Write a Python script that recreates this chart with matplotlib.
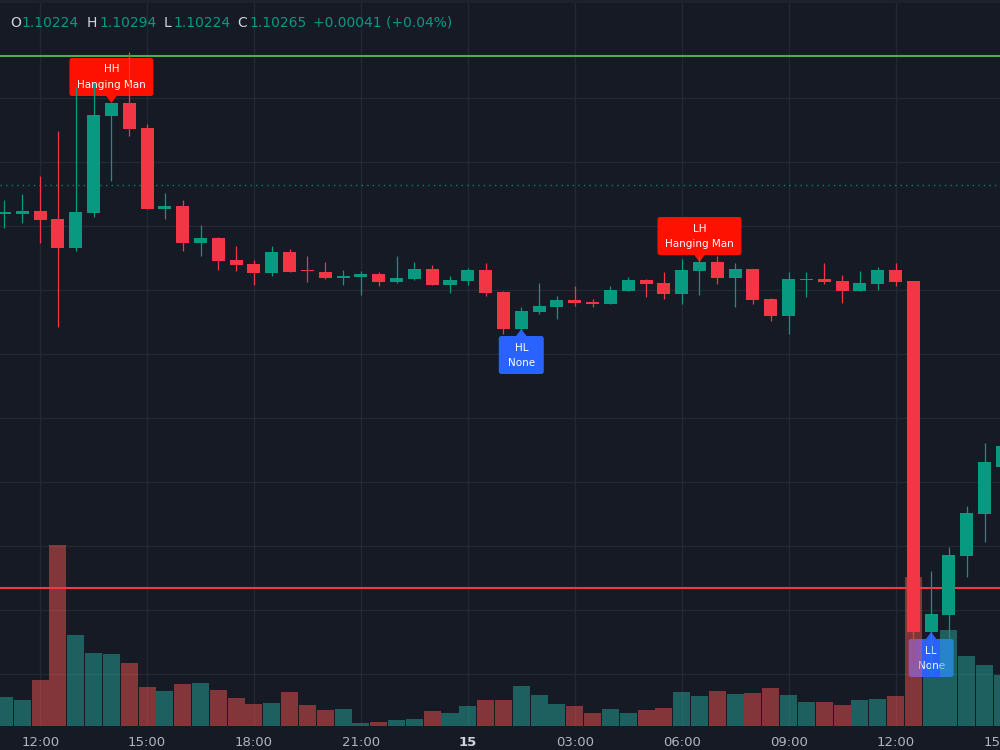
import matplotlib
matplotlib.use('Agg')
import matplotlib.pyplot as plt
import matplotlib.transforms as mtransforms
from matplotlib.patches import FancyBboxPatch, Polygon, Rectangle
import numpy as np

# EURUSD 30m, first bar = 11:00 on the 14th
opens = [1.10729, 1.10729, 1.10735, 1.10719, 1.10661, 1.10731, 1.10925, 1.10951, 1.10901, 1.10739,
         1.10745, 1.10671, 1.10681, 1.10637, 1.10629, 1.10611, 1.10653, 1.10617, 1.10613, 1.10601,
         1.10603, 1.10609, 1.10593, 1.10599, 1.10619, 1.10587, 1.10595, 1.10617, 1.10573, 1.10499,
         1.10533, 1.10543, 1.10557, 1.10553, 1.10549, 1.10575, 1.10597, 1.10591, 1.10569, 1.10615,
         1.10633, 1.10601, 1.10619, 1.10559, 1.10525, 1.10597, 1.10599, 1.10595, 1.10575, 1.10589,
         1.10617, 1.10595, 1.09893, 1.09927, 1.10045, 1.10129, 1.10224]
highs = [1.10757, 1.10769, 1.10805, 1.10895, 1.10983, 1.10991, 1.10951, 1.11053, 1.10909, 1.10771,
         1.10757, 1.10707, 1.10683, 1.10665, 1.10637, 1.10665, 1.10659, 1.10645, 1.10633, 1.10617,
         1.10615, 1.10613, 1.10645, 1.10633, 1.10627, 1.10605, 1.10621, 1.10631, 1.10575, 1.10543,
         1.10591, 1.10565, 1.10585, 1.10559, 1.10585, 1.10603, 1.10599, 1.10613, 1.10639, 1.10645,
         1.10645, 1.10631, 1.10619, 1.10561, 1.10613, 1.10613, 1.10631, 1.10607, 1.10615, 1.10623,
         1.10631, 1.10595, 1.10015, 1.10063, 1.10145, 1.10271, 1.10294]
lows = [1.10701, 1.10711, 1.10671, 1.10503, 1.10655, 1.10723, 1.10795, 1.10885, 1.10739, 1.10719,
        1.10655, 1.10645, 1.10617, 1.10615, 1.10587, 1.10605, 1.10613, 1.10593, 1.10599, 1.10587,
        1.10567, 1.10585, 1.10591, 1.10597, 1.10587, 1.10571, 1.10587, 1.10565, 1.10489, 1.10497,
        1.10529, 1.10519, 1.10545, 1.10543, 1.10549, 1.10575, 1.10563, 1.10559, 1.10549, 1.10567,
        1.10589, 1.10543, 1.10549, 1.10515, 1.10489, 1.10563, 1.10589, 1.10551, 1.10575, 1.10577,
        1.10585, 1.09833, 1.09805, 1.09881, 1.10003, 1.10073, 1.10224]
closes = [1.10733, 1.10735, 1.10717, 1.10661, 1.10733, 1.10927, 1.10951, 1.10899, 1.10739, 1.10745,
          1.10671, 1.10681, 1.10635, 1.10627, 1.10611, 1.10653, 1.10613, 1.10615, 1.10601, 1.10605,
          1.10609, 1.10593, 1.10601, 1.10619, 1.10587, 1.10597, 1.10617, 1.10571, 1.10499, 1.10535,
          1.10545, 1.10557, 1.10551, 1.10549, 1.10577, 1.10597, 1.10589, 1.10569, 1.10617, 1.10633,
          1.10601, 1.10619, 1.10557, 1.10525, 1.10599, 1.10599, 1.10593, 1.10575, 1.10591, 1.10617,
          1.10593, 1.09893, 1.09929, 1.10047, 1.10131, 1.10233, 1.10265]
volumes = [2900, 2600, 4600, 18100, 9100, 7300, 7200, 6300, 3900, 3500,
           4200, 4300, 3600, 2800, 2200, 2300, 3400, 2100, 1600, 1700,
           300, 400, 600, 700, 1500, 1300, 2000, 2600, 2600, 4000,
           3100, 2200, 2000, 1300, 1700, 1300, 1600, 1800, 3400, 3000,
           3500, 3200, 3300, 3800, 3100, 2400, 2400, 2100, 2600, 2700,
           3000, 14900, 4900, 9600, 7000, 6100, 5100]

tick_idx = [2, 8, 14, 20, 26, 32, 38, 44, 50, 56]
tick_text = ['12:00', '15:00', '18:00', '21:00', '15', '03:00', '06:00', '09:00', '12:00', '15:00']

# pivot labels
label_idx = [6, 29, 39, 52]
label_top = ['HH', 'HL', 'LH', 'LL']
label_bottom = ['Hanging Man', 'None', 'Hanging Man', 'None']

upper_line = 1.11045
lower_line = 1.09981
dotted_line = 1.10787

BG = '#161a25'
UP = '#089981'
DOWN = '#f23645'
VOL_UP = '#26a69a'
VOL_DOWN = '#ef5350'

opens = np.array(opens)
highs = np.array(highs)
lows = np.array(lows)
closes = np.array(closes)
volumes = np.array(volumes)
x = np.arange(len(opens))
up = closes >= opens

fig = plt.figure(figsize=(10, 7.5), dpi=100, facecolor=BG)
ax = fig.add_axes([0, 24 / 750, 1, 726 / 750])
ax.set_facecolor(BG)

y_bot, y_top = 1.09705, 1.11157
ax.set_ylim(y_bot, y_top)
ax.set_xlim(-0.2525, 55.864)
px_y = (y_top - y_bot) / 726
px_x = (55.864 + 0.2525) / 1000

for s in ax.spines.values():
    s.set_visible(False)
ax.set_yticks(np.arange(1.09809, 1.1097, 0.00128))
ax.set_xticks(tick_idx[:-1])
ax.grid(True, color='#242834', linewidth=1.0)
ax.tick_params(length=0, labelbottom=False, labelleft=False)
ax.set_axisbelow(True)

# volume on its own scale at the bottom of the pane
vol_axis_max = 72600
vol_h = volumes / vol_axis_max * (y_top - y_bot)
ax.bar(x, vol_h, bottom=y_bot, width=0.955,
       color=np.where(up, VOL_UP, VOL_DOWN), alpha=0.5, linewidth=0, zorder=2)

# horizontal levels
ax.axhline(upper_line, color='#4caf50', linewidth=1.5, zorder=2.5)
ax.axhline(lower_line, color=DOWN, linewidth=1.5, zorder=2.5)
ax.axhline(dotted_line, color=UP, linewidth=1.0, linestyle=(0, (1, 3)), alpha=0.8, zorder=2.5)

# candles
colors = np.where(up, UP, DOWN)
ax.vlines(x, lows, highs, colors=colors, linewidth=0.9, zorder=3)
body_lo = np.minimum(opens, closes)
body_h = np.maximum(np.abs(closes - opens), px_y * 1.2)
ax.bar(x, body_h, bottom=body_lo, width=0.73, color=colors, linewidth=0, zorder=3.1)


def draw_label(i, top_text, bottom_text):
    below = top_text in ('HL', 'LL')
    color = '#2962ff' if below else '#ff1100'
    w = (84 if bottom_text == 'Hanging Man' else 45) * px_x
    h = 38 * px_y
    tri_h = 7 * px_y
    tri_w = 6 * px_x
    if below:
        anchor = min(opens[i], closes[i])
        box_top = anchor - tri_h
        box_bot = box_top - h
        tri = [(i, anchor), (i - tri_w, box_top - px_y), (i + tri_w, box_top - px_y)]
    else:
        anchor = max(opens[i], closes[i])
        box_bot = anchor + tri_h
        box_top = box_bot + h
        tri = [(i, anchor), (i - tri_w, box_bot + px_y), (i + tri_w, box_bot + px_y)]
    box = FancyBboxPatch((i - w / 2, box_bot), w, h,
                         boxstyle='round,pad=0,rounding_size=%f' % (2.5 * px_x),
                         mutation_aspect=px_y / px_x,
                         facecolor=color, edgecolor='none', zorder=1)
    ax.add_patch(box)
    ax.add_patch(Polygon(tri, closed=True, facecolor=color, edgecolor='none', zorder=1))
    cy = (box_bot + box_top) / 2
    ax.text(i, cy + 7.5 * px_y, top_text, color='white', fontsize=7.5,
            ha='center', va='center', zorder=1.5)
    ax.text(i, cy - 7.5 * px_y, bottom_text, color='white', fontsize=7.5,
            ha='center', va='center', zorder=1.5)


for i, t, b in zip(label_idx, label_top, label_bottom):
    draw_label(i, t, b)

# time axis labels
trans = mtransforms.blended_transform_factory(ax.transData, fig.transFigure)
for i, t in zip(tick_idx, tick_text):
    bold = t == '15'
    ax.text(i, 7 / 750, t, transform=trans, ha='center', va='center',
            fontsize=9.5, color='#d1d4dc' if bold else '#b2b5be',
            fontweight='bold' if bold else 'normal', clip_on=False)

# thin top border
fig.patches.append(Rectangle((0, 1 - 3 / 750), 1, 3 / 750, transform=fig.transFigure,
                             facecolor='#1e222d', edgecolor='none', zorder=5))

# OHLC header for the last bar
o, hi, lo, c = opens[-1], highs[-1], lows[-1], closes[-1]
chg = c - o
header = [(10, 'O', '#d1d4dc'), (21, f'{o:.5f}', UP),
          (87, 'H', '#d1d4dc'), (99, f'{hi:.5f}', UP),
          (164, 'L', '#d1d4dc'), (173, f'{lo:.5f}', UP),
          (237, 'C', '#d1d4dc'), (249, f'{c:.5f}', UP),
          (313, f'{chg:+.5f} ({chg / o * 100:+.2f}%)', UP)]
for px, txt, col in header:
    fig.text(px / 1000, 1 - 23 / 750, txt, color=col, fontsize=10, ha='left', va='center')

fig.savefig('out.png', dpi=100, facecolor=BG)
